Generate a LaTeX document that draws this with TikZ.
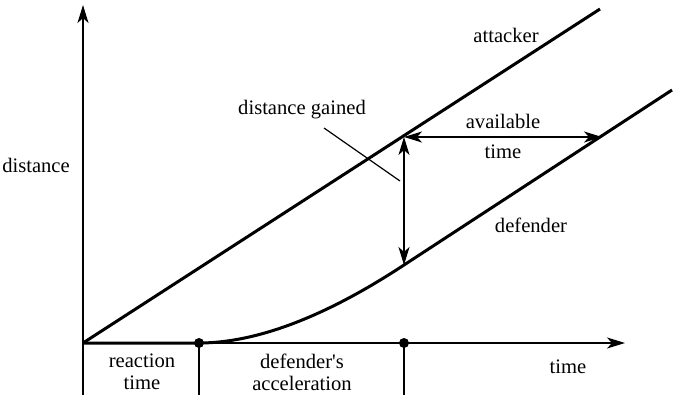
\documentclass[tikz,border=0pt]{standalone}
\usepackage{fontspec}
\setmainfont{Liberation Serif}[Ligatures=TeXOff]
\usetikzlibrary{arrows.meta,positioning}

\begin{document}
\begin{tikzpicture}[x=1pt, y=-1pt, font=\fontsize{20.6}{22}\selectfont]
    \tikzstyle{axis}=[line width=2pt, -{Stealth[length=18pt, width=11pt, inset=5pt]}]
    \tikzstyle{tick}=[line width=2pt]
    \tikzstyle{path}=[line width=3pt]
    \tikzstyle{span}=[line width=2pt, {Stealth[length=18pt, width=11pt, inset=5pt]}-{Stealth[length=18pt, width=11pt, inset=5pt]}]
    \tikzstyle{leader}=[line width=1.2pt]
    \tikzstyle{dot}=[circle, fill=black, inner sep=0pt, minimum size=10pt]
    \tikzstyle{label}=[inner sep=1pt, align=center]

    \useasboundingbox (0,0) rectangle (675,396);

    % axes and time marks
    \coordinate (O) at (83,343);
    \coordinate (ytop) at (83,5);
    \coordinate (ybot) at (83,395);
    \coordinate (xend) at (625,343);
    \node[dot] (t1) at (199,343) {};
    \node[dot] (t2) at (404,343) {};
    \coordinate (t1b) at (199,395);
    \coordinate (t2b) at (404,395);

    \draw[axis] (ybot) -- (ytop);
    \draw[axis] (O) -- (xend);
    \draw[tick] (t1.center) -- (t1b);
    \draw[tick] (t2.center) -- (t2b);

    % attacker and defender
    \coordinate (aend) at (600,9);
    \coordinate (knee) at (404,265);
    \coordinate (dend) at (672,90);
    \coordinate (gap) at (404,137);
    \coordinate (avail) at (602,137);

    \draw[path] (O) -- (aend);
    \draw[path] (O) -- (t1.center) .. controls (256,343) and (325,317) .. (knee) -- (dend);

    \draw[span] (gap) -- (knee);
    \draw[span] (gap) -- (avail);

    % labels
    \node[label] (att) at (506,35) {attacker};
    \node[label] (def) at (531,225) {defender};
    \node[label] (dist) at (36,165) {distance};
    \node[label] (tim) at (568,367) {time};
    \node[label] (gain) at (302,110) {distance gained};
    \node[label] (av1) at (503,121) {available};
    \node[label] (av2) at (503,152) {time};
    \node[label] (react) at (142,372) {reaction\\time};
    \node[label] (accel) at (302,372) {defender's\\acceleration};

    \coordinate (lstart) at (324,128);
    \coordinate (lend) at (400,181);
    \draw[leader] (lstart) -- (lend);
\end{tikzpicture}
\end{document}
